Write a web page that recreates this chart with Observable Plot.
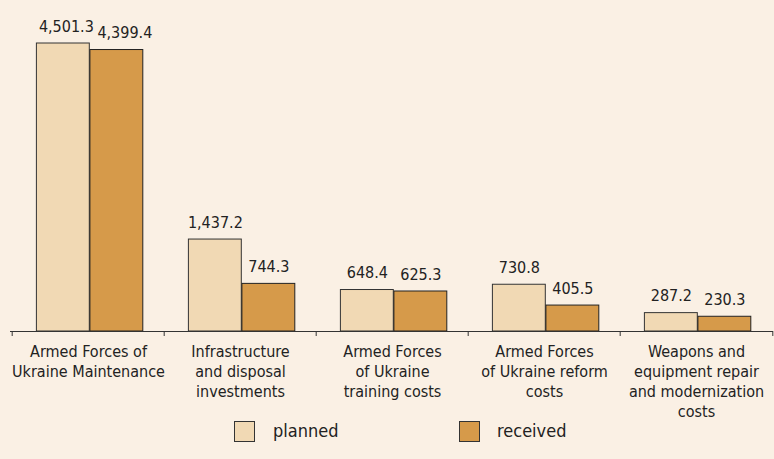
<!DOCTYPE html>
<html><head><meta charset="utf-8">
<script src="https://cdn.jsdelivr.net/npm/d3@7"></script>
<script src="https://cdn.jsdelivr.net/npm/@observablehq/plot@0.6"></script>
<style>
html,body{margin:0;padding:0;background:#faf0e4;}
#chart{width:774px;height:459px;background:#faf0e4;font-family:"DejaVu Sans Condensed","DejaVu Sans",sans-serif;font-stretch:condensed;color:#222;overflow:hidden}
#chart svg{display:block}
.legend{position:relative;height:35px;margin-top:-6px}
.sw{position:absolute;top:3px;width:19px;height:19px;border:1.5px solid #333}
.lt{position:absolute;top:1px;font-size:18px;line-height:24px;color:#222}
</style>
</head><body>
<div id="chart"></div>
<script>
const categories = [
  "Armed Forces of\nUkraine Maintenance",
  "Infrastructure\nand disposal\ninvestments",
  "Armed Forces\nof Ukraine\ntraining costs",
  "Armed Forces\nof Ukraine reform\ncosts",
  "Weapons and\nequipment repair\nand modernization\ncosts"
];
const planned = [4501.3, 1437.2, 648.4, 730.8, 287.2];
const received = [4399.4, 744.3, 625.3, 405.5, 230.3];
const seriesNames = ["planned", "received"];
const seriesColors = ["#f1d9b4", "#d69a4a"];

const rows = categories.map((c, i) => ({cat: c, planned: planned[i], received: received[i]}));
const fmt = d3.format(",.1f");

const W = 774, H = 424, mL = 10, mR = 1, mT = 43, mB = 93;
const bw = (W - mL - mR) / categories.length;
const barW = 53.5, shift = 1.6;
const font = '"DejaVu Sans Condensed","DejaVu Sans",sans-serif';
// labels of neighbouring bars at similar heights with wide text are nudged apart
const crowded = d => Math.abs(d.planned - d.received) < 300 && fmt(d.received).length > 5;

const plot = Plot.plot({
  width: W, height: H,
  marginLeft: mL, marginRight: mR, marginTop: mT, marginBottom: mB,
  style: {background: "transparent", fontFamily: font, fontSize: "16px", color: "#222"},
  x: {type: "band", domain: categories, padding: 0, label: null},
  y: {domain: [0, d3.max(planned.concat(received))], axis: null},
  marks: [
    Plot.barY(rows, {x: "cat", y: "planned", fill: seriesColors[0], stroke: "#333", strokeWidth: 1,
      insetLeft: bw/2 + shift - barW, insetRight: bw/2 - shift}),
    Plot.barY(rows, {x: "cat", y: "received", fill: seriesColors[1], stroke: "#222", strokeWidth: 1,
      insetLeft: bw/2 + shift, insetRight: bw/2 - shift - barW}),
    Plot.ruleY([0], {stroke: "#333", strokeWidth: 1}),
    Plot.axisX({tickSize: 5, tickFormat: () => "", dx: -bw/2, stroke: "#333", label: null}),
    Plot.axisX([categories[categories.length - 1]], {tickSize: 5, tickFormat: () => "", dx: bw/2, stroke: "#333", label: null}),
    Plot.axisX({tickSize: 0, tickPadding: 11, lineHeight: 1.25, fontSize: 16, fill: "#222", label: null}),
    Plot.text(rows.filter(d => !crowded(d)), {x: "cat", y: "planned", text: d => fmt(d.planned), dx: shift - barW/2, dy: -17,
      lineAnchor: "middle", fontSize: 16, fill: "#222"}),
    Plot.text(rows.filter(crowded), {x: "cat", y: "planned", text: d => fmt(d.planned), dx: shift - barW/2 + 3, dy: -17,
      lineAnchor: "middle", fontSize: 16, fill: "#222"}),
    Plot.text(rows.filter(d => !crowded(d)), {x: "cat", y: "received", text: d => fmt(d.received), dx: shift + barW/2, dy: -17,
      lineAnchor: "middle", fontSize: 16, fill: "#222"}),
    Plot.text(rows.filter(crowded), {x: "cat", y: "received", text: d => fmt(d.received), dx: shift + barW/2 + 8, dy: -17,
      lineAnchor: "middle", fontSize: 16, fill: "#222"})
  ]
});

const chart = document.getElementById("chart");
chart.appendChild(plot);

const legend = document.createElement("div");
legend.className = "legend";
const legendX = [[234, 273], [459, 497]];
seriesNames.forEach((name, i) => {
  const sw = document.createElement("div");
  sw.className = "sw";
  sw.style.left = legendX[i][0] + "px";
  sw.style.background = seriesColors[i];
  const lt = document.createElement("div");
  lt.className = "lt";
  lt.style.left = legendX[i][1] + "px";
  lt.textContent = name;
  legend.appendChild(sw);
  legend.appendChild(lt);
});
chart.appendChild(legend);
</script>
</body></html>
